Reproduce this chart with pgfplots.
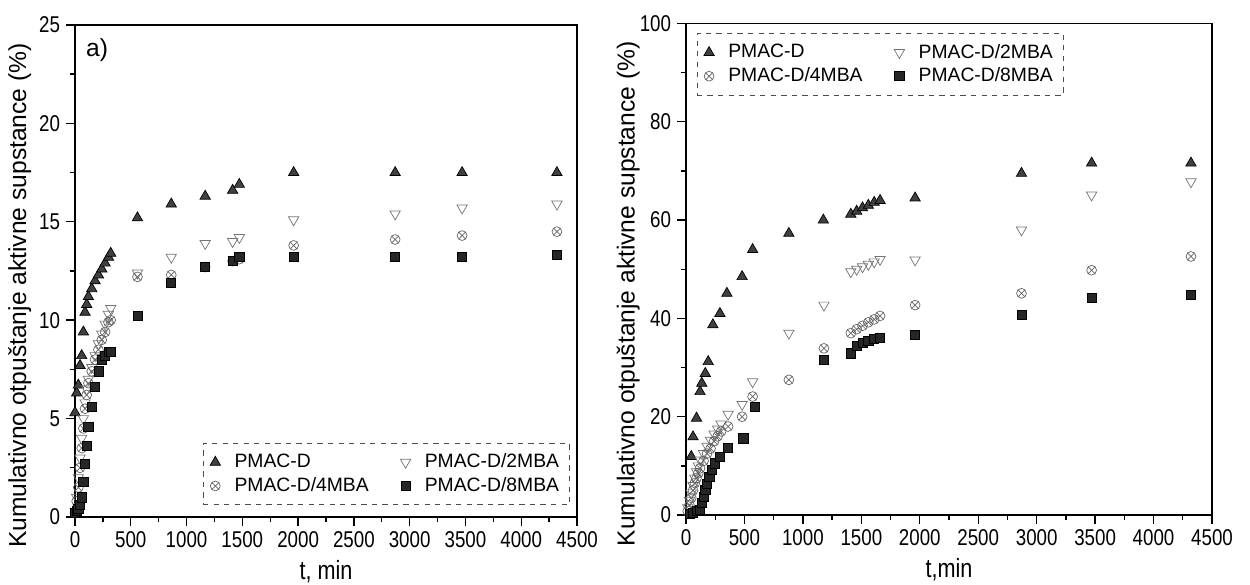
\documentclass[border=0pt]{standalone}
\usepackage{fontspec}
\setmainfont{Liberation Sans}
\newfontfamily\narrow[FakeStretch=0.82]{Liberation Sans}
\usepackage{pgfplots}
\usepackage{pgfplotstable}
\pgfplotsset{compat=1.18}

% a) left panel
\pgfplotstableread{
t v
0 5.3
15 6.3
30 6.7
45 7.7
60 8.2
75 9.4
90 10.4
105 10.8
120 11.2
150 11.6
180 12.0
210 12.3
240 12.6
270 12.9
300 13.2
320 13.4
560 15.2
863 15.9
1167 16.3
1413 16.6
1473 16.9
1960 17.5
2870 17.5
3470 17.5
4320 17.5
}\aD
\pgfplotstableread{
t v
0 0.3
15 1.0
30 2.0
45 3.0
60 4.0
75 5.0
90 5.8
105 6.5
120 7.0
150 7.6
180 8.2
210 8.8
240 9.3
270 9.8
300 10.3
320 10.6
560 12.4
863 13.2
1167 13.9
1413 14.0
1473 14.2
1960 15.1
2870 15.4
3470 15.7
4320 15.9
}\aB
\pgfplotstableread{
t v
0 0.2
15 0.8
30 1.5
45 2.5
60 3.5
75 4.5
90 5.5
105 6.2
120 6.8
150 7.4
180 8.0
210 8.5
240 9.0
270 9.4
300 9.9
320 10.0
560 12.2
863 12.3
1167 12.7
1413 13.0
1473 13.1
1960 13.8
2870 14.1
3470 14.3
4320 14.5
}\aC
\pgfplotstableread{
t v
0 0.2
15 0.3
30 0.4
45 0.6
60 1.0
75 1.8
90 2.7
105 3.6
120 4.6
150 5.6
180 6.6
210 7.4
240 8.0
270 8.2
300 8.4
320 8.4
560 10.2
863 11.9
1167 12.7
1413 13.0
1473 13.2
1960 13.2
2870 13.2
3470 13.2
4320 13.3
}\aE

% b) right panel
\pgfplotstableread{
t v
45 11.9
60 15.9
90 19.7
120 25.1
135 26.8
165 28.8
190 31.2
230 38.7
290 41.0
350 45.1
480 48.5
570 54.0
880 57.3
1175 60.0
1410 61.2
1460 61.8
1510 62.5
1560 63.0
1610 63.6
1660 64.0
1960 64.5
2870 69.5
3470 71.6
4320 71.6
}\bD
\pgfplotstableread{
t v
15 1.5
30 3.0
45 4.5
60 6.0
75 7.5
90 8.8
105 10.0
120 11.2
150 12.5
180 14.0
210 15.2
240 16.5
270 17.5
300 18.5
360 20.5
480 22.5
570 27.1
880 37.0
1180 42.7
1410 49.5
1460 50.0
1510 50.5
1560 51.0
1610 51.5
1660 52.0
1960 51.9
2870 58.0
3470 65.1
4320 67.8
}\bB
\pgfplotstableread{
t v
15 0.8
30 2.0
45 3.5
60 5.0
75 6.5
90 7.5
105 8.5
120 9.5
150 11.0
180 12.5
210 13.5
240 15.0
270 16.0
300 17.0
360 18.0
480 20.0
570 24.1
880 27.5
1180 33.9
1410 37.0
1460 37.8
1510 38.5
1560 39.2
1610 39.8
1660 40.5
1960 42.7
2870 45.1
3470 49.8
4320 52.6
}\bC
\pgfplotstableread{
t v
30 0.3
60 0.5
90 0.8
120 1.0
135 2.4
150 3.7
165 5.1
180 6.4
200 7.8
220 9.2
250 10.5
290 11.9
360 13.6
490 15.6
590 22.0
1180 31.5
1410 32.9
1460 34.5
1510 35.0
1560 35.4
1610 35.8
1660 36.0
1960 36.6
2870 40.7
3470 44.1
4320 44.8
}\bE

\pgfplotsset{
  panel/.style={
    scale only axis, anchor=south west,
    xmin=0, xmax=4500, xtick={0,500,...,4500}, minor x tick num=1,
    tick align=outside, xtick pos=left, ytick pos=left,
    axis line style={line width=1pt},
    major tick length=5pt, minor tick length=3pt,
    every tick/.style={black, line width=0.8pt},
    /pgf/number format/assume math mode=true,
    /pgf/number format/set thousands separator={},
    tick label style={font=\narrow\fontsize{13}{15}\selectfont},
    xlabel style={font=\narrow\fontsize{15}{17}\selectfont},
    ylabel={Kumulativno otpuštanje aktivne supstance (\%)},
    ylabel style={font=\fontsize{14}{16}\selectfont, at={(axis description cs:-0.11,0.45)}, anchor=center},
    legend columns=2, legend cell align=left,
    legend style={font=\fontsize{11}{15}\selectfont, draw=black!70, dashed, inner sep=4pt,
      /tikz/column 1/.style={column sep=6pt},
      /tikz/column 2/.style={column sep=16pt},
      /tikz/column 3/.style={column sep=6pt}},
  },
  sD/.style={only marks, mark=triangle*, mark size=3.4pt, mark options={solid, draw=black, fill=black!75}},
  sB/.style={only marks, mark=triangle, mark size=3.4pt, mark options={solid, rotate=180, draw=black!55}},
  sC/.style={only marks, mark=otimes, mark size=2.8pt, mark options={solid, draw=black!60}},
  sE/.style={only marks, mark=square*, mark size=2.6pt, mark options={solid, draw=black, fill=black!85}},
}

\begin{document}
\begin{tikzpicture}
\useasboundingbox (0,0) rectangle (25cm,11.7cm);
\begin{axis}[panel, at={(1.5cm,1.36cm)}, width=10.04cm, height=9.84cm,
  ymin=0, ymax=25, ytick={0,5,...,25}, minor y tick num=1,
  xlabel={t, min},
  legend style={at={(axis description cs:0.986,0.024)}, anchor=south east}]
\addplot[sD] table {\aD};
\addplot[sB] table {\aB};
\addplot[sC] table {\aC};
\addplot[sE] table {\aE};
\legend{PMAC-D, PMAC-D/2MBA, PMAC-D/4MBA, PMAC-D/8MBA}
\node[anchor=north west, font=\fontsize{14}{16}\selectfont] at (axis description cs:0.01,0.985) {a)};
\end{axis}
\begin{axis}[panel, at={(13.72cm,1.4cm)}, width=10.52cm, height=9.83cm,
  ymin=0, ymax=100, ytick={0,20,...,100}, minor y tick num=1,
  xlabel={t,min},
  legend style={at={(axis description cs:0.02,0.98)}, anchor=north west}]
\addplot[sD] table {\bD};
\addplot[sB] table {\bB};
\addplot[sC] table {\bC};
\addplot[sE] table {\bE};
\legend{PMAC-D, PMAC-D/2MBA, PMAC-D/4MBA, PMAC-D/8MBA}
\node[anchor=north west, font=\fontsize{14}{16}\selectfont] at (axis description cs:0.01,0.985) {b)};
\end{axis}
\end{tikzpicture}
\end{document}
